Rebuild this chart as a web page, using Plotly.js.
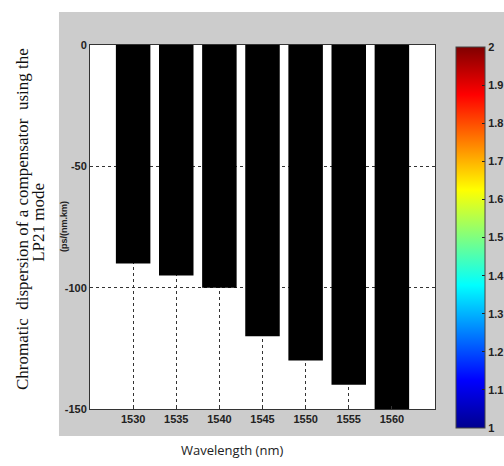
<!DOCTYPE html>
<html>
<head>
<meta charset="utf-8">
<script src="https://cdn.plot.ly/plotly-3.0.1.min.js"></script>
<style>html,body{margin:0;padding:0;background:#fff;}#chart{width:504px;height:466px;}</style>
</head>
<body>
<div id="chart"></div>
<script>
const wavelengths = [1530, 1535, 1540, 1545, 1550, 1555, 1560];
const dispersion = [-90, -95, -100, -120, -130, -140, -150];
const yTickVals = [0, -50, -100, -150];
const yTickText = ["0", "-50", "-100", "-150"];
const cbTickVals = [1, 1.1, 1.2, 1.3, 1.4, 1.5, 1.6, 1.7, 1.8, 1.9, 2];
const cbTickText = ["1", "1.1", "1.2", "1.3", "1.4", "1.5", "1.6", "1.7", "1.8", "1.9", "2"];
const cbRange = [1, 2];

const jet = [[0,'#00008F'],[0.125,'#0000FF'],[0.375,'#00FFFF'],[0.625,'#FFFF00'],[0.875,'#FF0000'],[1,'#800000']];

const tickFont = {family:'Liberation Sans, Arial, sans-serif', size:11, color:'#222', weight:'bold'};

const traces = [
  {type:'bar', x:wavelengths, y:dispersion, width:4, marker:{color:'#000000', line:{width:0}}, hoverinfo:'skip'},
  {type:'scatter', mode:'markers', x:[wavelengths[0], wavelengths[0]], y:[0, 0], hoverinfo:'skip',
   marker:{size:0.1, opacity:0, color:cbRange, cmin:cbRange[0], cmax:cbRange[1], colorscale:jet, showscale:true,
     colorbar:{x:1.061, xanchor:'left', y:0.471, yanchor:'middle', thickness:29, len:381, lenmode:'pixels',
       outlinecolor:'#444', outlinewidth:1, tickvals:cbTickVals, ticktext:cbTickText, ticks:'inside', ticklen:3,
       tickcolor:'#222', tickfont:tickFont, xpad:0, ypad:0, ticklabelposition:'outside'}}}
];

const layout = {
  width:504, height:466,
  margin:{l:90, r:69, t:45, b:57, autoexpand:false},
  paper_bgcolor:'#ffffff', plot_bgcolor:'#ffffff',
  showlegend:false,
  xaxis:{range:[1525,1565], tickvals:wavelengths, ticktext:wavelengths.map(String), showgrid:true, gridcolor:'#333', griddash:'dot', gridwidth:1,
    showline:true, mirror:true, linecolor:'#333', linewidth:1, ticks:'inside', ticklen:3, tickcolor:'#333', tickfont:tickFont, zeroline:false, fixedrange:true, automargin:false},
  yaxis:{range:[-150,0], tickvals:yTickVals, ticktext:yTickText, showgrid:true, gridcolor:'#333', griddash:'dot', gridwidth:1,
    showline:true, mirror:true, linecolor:'#333', linewidth:1, ticks:'inside', ticklen:3, tickcolor:'#333', tickfont:tickFont, zeroline:false, fixedrange:true, automargin:false},
  shapes:[
    {type:'rect', xref:'paper', yref:'paper', x0:-0.0899, x1:1.2, y0:-0.0742, y1:1.0907, fillcolor:'#cccccc', line:{width:0}, layer:'below'},
    {type:'rect', xref:'paper', yref:'paper', x0:0, x1:1, y0:0, y1:1, fillcolor:'#ffffff', line:{width:0}, layer:'below'}
  ],
  annotations:[
    {xref:'paper', yref:'paper', x:-0.194, y:0.522, xanchor:'center', yanchor:'middle', textangle:-90, showarrow:false,
     text:'Chromatic  dispersion of a compensator  using the',
     font:{family:'Liberation Serif, Times New Roman, serif', size:17, color:'#111'}},
    {xref:'paper', yref:'paper', x:-0.148, y:0.514, xanchor:'center', yanchor:'middle', textangle:-90, showarrow:false,
     text:'LP21 mode',
     font:{family:'Liberation Serif, Times New Roman, serif', size:17, color:'#111'}},
    {xref:'paper', yref:'paper', x:-0.0754, y:0.503, xanchor:'center', yanchor:'middle', textangle:-90, showarrow:false,
     text:'(ps/(nm.km)', font:{family:'Liberation Sans, Arial, sans-serif', size:9, color:'#222', weight:'bold'}},
    {xref:'paper', yref:'paper', x:0.4116, y:-0.113, xanchor:'center', yanchor:'middle', showarrow:false,
     text:'Wavelength (nm)', font:{family:'Open Sans, Liberation Sans, sans-serif', size:13, color:'#222'}}
  ]
};

Plotly.newPlot('chart', traces, layout, {staticPlot:true, displayModeBar:false});
</script>
</body>
</html>
